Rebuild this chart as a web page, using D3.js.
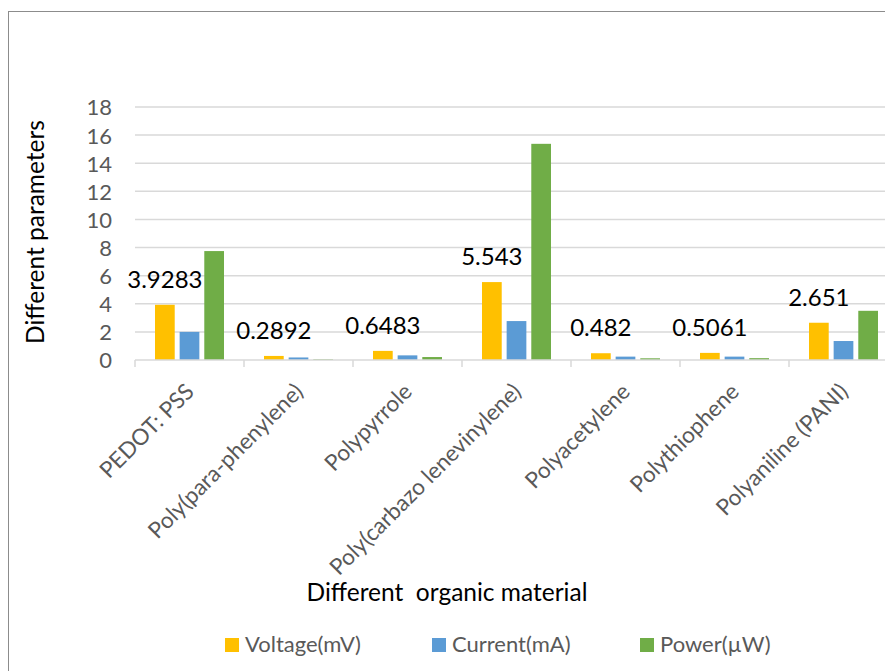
<!DOCTYPE html>
<html>
<head>
<meta charset="utf-8">
<script src="https://cdn.jsdelivr.net/npm/d3@7"></script>
<style>
  html, body { margin: 0; padding: 0; background: #fff; }
  svg { display: block; font-family: Lato, "Open Sans", sans-serif; }
</style>
</head>
<body>
<svg id="chart" width="885" height="671"></svg>
<script>
// Materials on the category axis
const materials = [
  "PEDOT: PSS",
  "Poly(para-phenylene)",
  "Polypyrrole",
  "Poly(carbazo lenevinylene)",
  "Polyacetylene",
  "Polythiophene",
  "Polyaniline (PANI)"
];
// Series values per material
const voltage = [3.9283, 0.2892, 0.6483, 5.543, 0.482, 0.5061, 2.651];
const current = [2.0, 0.18, 0.33, 2.77, 0.24, 0.24, 1.35];
const power   = [7.75, 0.05, 0.21, 15.38, 0.12, 0.13, 3.5];
const seriesNames = ["Voltage(mV)", "Current(mA)", "Power(\u00B5W)"];
const seriesColors = ["#FFC000", "#5B9BD5", "#70AD47"];
const yTicks = [0, 2, 4, 6, 8, 10, 12, 14, 16, 18];

const series = [voltage, current, power];

const svg = d3.select("#chart");
const W = 885, H = 671;

// Outer chart frame
svg.append("rect")
  .attr("x", 8.5).attr("y", 11.5)
  .attr("width", W + 20).attr("height", H + 20)
  .attr("fill", "#fff").attr("stroke", "#8c8c8c").attr("stroke-width", 1);

const plot = { left: 135, right: 898, top: 107, bottom: 360 };

const x = d3.scaleBand().domain(materials).range([plot.left, plot.right]).padding(0);
const xs = d3.scaleBand().domain(d3.range(series.length))
  .range([20, x.bandwidth() - 20]).paddingInner(0.2).paddingOuter(0);
const y = d3.scaleLinear().domain([0, 18]).range([plot.bottom, plot.top]);

// Horizontal gridlines
svg.append("g")
  .selectAll("line")
  .data(yTicks.filter(d => d > 0))
  .join("line")
  .attr("x1", plot.left).attr("x2", W)
  .attr("y1", d => y(d)).attr("y2", d => y(d))
  .attr("stroke", "#d9d9d9").attr("stroke-width", 1.5);

// Y axis tick labels
const yAxis = d3.axisLeft(y).tickValues(yTicks).tickSize(0).tickPadding(0);
const gy = svg.append("g").attr("transform", `translate(112,0)`).call(yAxis);
gy.select(".domain").remove();
gy.selectAll("text")
  .attr("fill", "#595959")
  .style("font-size", "22px")
  .style("font-family", "Lato, sans-serif")
  .attr("dy", "0.36em");

// Bars
const groups = svg.append("g")
  .selectAll("g")
  .data(materials)
  .join("g")
  .attr("transform", d => `translate(${x(d)},0)`);

groups.selectAll("rect")
  .data((d, i) => series.map((s, k) => ({ k, v: s[i] })))
  .join("rect")
  .attr("x", d => xs(d.k))
  .attr("width", xs.bandwidth())
  .attr("y", d => y(d.v))
  .attr("height", d => y(0) - y(d.v))
  .attr("fill", d => seriesColors[d.k]);

// Category axis with ticks at band boundaries
const gx = svg.append("g");
gx.append("line")
  .attr("x1", plot.left).attr("x2", plot.right)
  .attr("y1", plot.bottom).attr("y2", plot.bottom)
  .attr("stroke", "#d9d9d9").attr("stroke-width", 1.5);
gx.selectAll("line.tick")
  .data(materials)
  .join("line")
  .attr("class", "tick")
  .attr("x1", d => x(d)).attr("x2", d => x(d))
  .attr("y1", plot.bottom).attr("y2", plot.bottom + 7)
  .attr("stroke", "#d9d9d9").attr("stroke-width", 1.5);

gx.selectAll("text")
  .data(materials)
  .join("text")
  .attr("transform", d => `translate(${x(d) + x.bandwidth() / 2 + 6},${plot.bottom + 33}) rotate(-45)`)
  .attr("text-anchor", "end")
  .attr("fill", "#595959")
  .style("font-size", "22.5px")
  .text(d => d);

// Voltage value labels
svg.append("g")
  .selectAll("text")
  .data(voltage)
  .join("text")
  .attr("x", (d, i) => x(materials[i]) + xs(0) + xs.bandwidth() / 2)
  .attr("y", d => y(d) - 17)
  .attr("text-anchor", "middle")
  .attr("fill", "#000")
  .style("font-size", "24px")
  .text(d => d);

// Axis titles
svg.append("text")
  .attr("transform", "translate(44,232) rotate(-90)")
  .attr("text-anchor", "middle")
  .attr("fill", "#000")
  .style("font-size", "24.5px")
  .text("Different parameters");

svg.append("text")
  .attr("x", 447).attr("y", 601)
  .attr("text-anchor", "middle")
  .attr("fill", "#000")
  .style("font-size", "24.5px")
  .style("white-space", "pre")
  .text("Different  organic material");

// Legend
const legendX = [225, 432, 640];
const legend = svg.append("g")
  .selectAll("g")
  .data(seriesNames)
  .join("g")
  .attr("transform", (d, i) => `translate(${legendX[i]},638)`);
legend.append("rect")
  .attr("width", 14).attr("height", 14)
  .attr("fill", (d, i) => seriesColors[i]);
legend.append("text")
  .attr("x", 20).attr("y", 14)
  .attr("fill", "#595959")
  .style("font-size", "22px")
  .text(d => d);
</script>
</body>
</html>
